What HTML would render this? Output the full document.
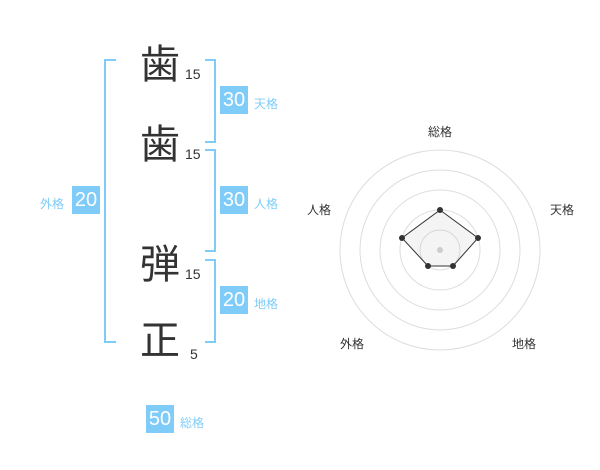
<!DOCTYPE html>
<html><head><meta charset="utf-8"><style>
body{margin:0;width:600px;height:470px;background:#fff;position:relative;overflow:hidden;font-family:"Liberation Sans","Noto Sans CJK JP",sans-serif}
.a{position:absolute}
.k{font-size:40px;color:#333;line-height:1;width:44px;text-align:center}
.n{font-size:14px;color:#333}
.b{background:#7fccf8;color:#fff;font-size:20px;width:28px;height:28px;line-height:28px;text-align:center}
.l{font-size:12px;color:#7fccf8}
.r{font-size:12px;color:#333}
</style></head><body>
<div class="a" style="left:104px;top:59px;width:10px;height:280px;border:2px solid #7fccf8;border-right:none"></div>
<div class="a" style="left:205px;top:59px;width:9px;height:80px;border:2px solid #7fccf8;border-left:none"></div>
<div class="a" style="left:205px;top:149px;width:9px;height:99px;border:2px solid #7fccf8;border-left:none"></div>
<div class="a" style="left:205px;top:259px;width:9px;height:80px;border:2px solid #7fccf8;border-left:none"></div>
<div class="a k" style="left:138px;top:45px">歯</div>
<div class="a k" style="left:138px;top:125px">歯</div>
<div class="a k" style="left:138px;top:245px">弾</div>
<div class="a k" style="left:138px;top:321px">正</div>
<div class="a n" style="left:185px;top:66px">15</div>
<div class="a n" style="left:185px;top:146px">15</div>
<div class="a n" style="left:185px;top:266px">15</div>
<div class="a n" style="left:190px;top:346px">5</div>
<div class="a b" style="left:220px;top:86px">30</div><div class="a l" style="left:254px;top:95px">天格</div>
<div class="a b" style="left:220px;top:186px">30</div><div class="a l" style="left:254px;top:195px">人格</div>
<div class="a b" style="left:220px;top:286px">20</div><div class="a l" style="left:254px;top:295px">地格</div>
<div class="a b" style="left:72px;top:186px">20</div><div class="a l" style="left:40px;top:195px">外格</div>
<div class="a b" style="left:146px;top:405px">50</div><div class="a l" style="left:180px;top:414px">総格</div>
<svg class="a" style="left:0;top:0" width="600" height="470">
<g fill="none" stroke="#ddd" stroke-width="1">
<circle cx="440" cy="250" r="100"/><circle cx="440" cy="250" r="80"/><circle cx="440" cy="250" r="60"/><circle cx="440" cy="250" r="40"/><circle cx="440" cy="250" r="20"/></g>
<polygon points="440,210 478,238 453,266 428,266 402,238" fill="rgba(200,200,200,0.2)" stroke="#333" stroke-width="1"/>
<circle cx="440" cy="250" r="3" fill="#ccc"/>
<g fill="#333"><circle cx="440" cy="210" r="3"/><circle cx="478" cy="238" r="3"/><circle cx="453" cy="266" r="3"/><circle cx="428" cy="266" r="3"/><circle cx="402" cy="238" r="3"/></g>
</svg>
<div class="a r" style="left:428px;top:123px">総格</div>
<div class="a r" style="left:550px;top:201px">天格</div>
<div class="a r" style="left:307px;top:201px">人格</div>
<div class="a r" style="left:340px;top:335px">外格</div>
<div class="a r" style="left:512px;top:335px">地格</div>
</body></html>
